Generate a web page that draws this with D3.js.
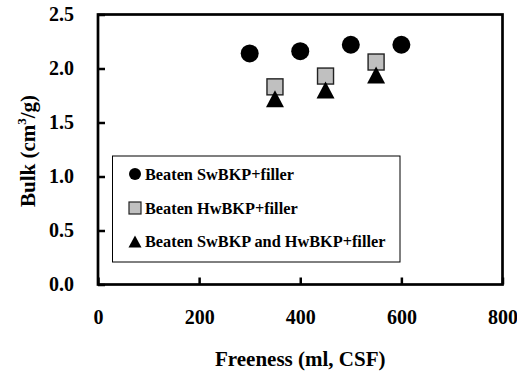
<!DOCTYPE html>
<html>
<head>
<meta charset="utf-8">
<script src="https://cdn.jsdelivr.net/npm/d3@7"></script>
<style>
  html, body { margin: 0; padding: 0; background: #fff; }
  svg text { font-family: "Liberation Serif", "Times New Roman", serif; font-weight: bold; fill: #000; }
</style>
</head>
<body>
<svg id="chart" width="517" height="375"></svg>
<script>
// Series data: freeness (ml, CSF) vs bulk (cm3/g)
const swFreeness = [300, 400, 500, 600];
const swBulk = [2.14, 2.16, 2.22, 2.22];
const hwFreeness = [350, 450, 550];
const hwBulk = [1.83, 1.93, 2.06];
const mixFreeness = [350, 450, 550];
const mixBulk = [1.72, 1.80, 1.94];

const xTicks = [0, 200, 400, 600, 800];
const yTicks = [0.0, 0.5, 1.0, 1.5, 2.0, 2.5];
const seriesNames = ["Beaten SwBKP+filler", "Beaten HwBKP+filler", "Beaten SwBKP and HwBKP+filler"];

const svg = d3.select("#chart");
const plot = { left: 98, right: 502.5, top: 14.5, bottom: 284.5 };

const x = d3.scaleLinear().domain([0, 800]).range([plot.left, plot.right]);
const y = d3.scaleLinear().domain([0, 2.5]).range([plot.bottom, plot.top]);

// Plot frame
svg.append("rect")
  .attr("x", plot.left).attr("y", plot.top)
  .attr("width", plot.right - plot.left).attr("height", plot.bottom - plot.top)
  .attr("fill", "none").attr("stroke", "#000").attr("stroke-width", 2.7);

// Axes with inward ticks
const xAxis = d3.axisBottom(x).tickValues(xTicks).tickSizeInner(-7).tickSizeOuter(0)
  .tickFormat(d3.format("d")).tickPadding(25);
const gx = svg.append("g").attr("transform", `translate(0,${plot.bottom})`).call(xAxis);
gx.select(".domain").remove();
gx.selectAll(".tick line").attr("stroke", "#000").attr("stroke-width", 2.5);
gx.selectAll(".tick text").attr("font-size", 20).attr("font-family", null);

const yAxis = d3.axisLeft(y).tickValues(yTicks).tickSizeInner(-7).tickSizeOuter(0)
  .tickFormat(d3.format(".1f")).tickPadding(24);
const gy = svg.append("g").attr("transform", `translate(${plot.left},0)`).call(yAxis);
gy.select(".domain").remove();
gy.selectAll(".tick line").attr("stroke", "#000").attr("stroke-width", 2.5);
gy.selectAll(".tick text").attr("font-size", 20).attr("font-family", null);

// Axis titles
svg.append("text")
  .attr("x", (plot.left + plot.right) / 2).attr("y", 366)
  .attr("text-anchor", "middle").attr("font-size", 21)
  .text("Freeness (ml, CSF)");

const yTitle = svg.append("text")
  .attr("transform", `translate(35,151) rotate(-90)`)
  .attr("text-anchor", "middle").attr("font-size", 21);
yTitle.append("tspan").text("Bulk (cm");
yTitle.append("tspan").attr("font-size", 13).attr("dy", -9).text("3");
yTitle.append("tspan").attr("dy", 9).text("/g)");

// Marker shapes
const tri = (w, h) => `M0,${-h / 2}L${w / 2},${h / 2}L${-w / 2},${h / 2}Z`;

// Circles
svg.append("g").selectAll("circle")
  .data(swFreeness.map((f, i) => [f, swBulk[i]]))
  .join("circle")
  .attr("cx", d => x(d[0])).attr("cy", d => y(d[1])).attr("r", 9)
  .attr("fill", "#000");

// Squares
svg.append("g").selectAll("rect")
  .data(hwFreeness.map((f, i) => [f, hwBulk[i]]))
  .join("rect")
  .attr("x", d => x(d[0]) - 8).attr("y", d => y(d[1]) - 8)
  .attr("width", 16).attr("height", 16)
  .attr("fill", "#c0c0c0").attr("stroke", "#222").attr("stroke-width", 1.4);

// Triangles
svg.append("g").selectAll("path")
  .data(mixFreeness.map((f, i) => [f, mixBulk[i]]))
  .join("path")
  .attr("transform", d => `translate(${x(d[0])},${y(d[1])})`)
  .attr("d", tri(18, 17))
  .attr("fill", "#000");

// Legend
const legend = svg.append("g");
legend.append("rect")
  .attr("x", 112.5).attr("y", 156).attr("width", 287.5).attr("height", 106)
  .attr("fill", "#fff").attr("stroke", "#000").attr("stroke-width", 1);
const rowY = [174, 208, 241.5];
const mx = 135;
legend.append("circle").attr("cx", mx).attr("cy", rowY[0]).attr("r", 6).attr("fill", "#000");
legend.append("rect").attr("x", mx - 6).attr("y", rowY[1] - 6).attr("width", 12).attr("height", 12)
  .attr("fill", "#c0c0c0").attr("stroke", "#222").attr("stroke-width", 1.2);
legend.append("path").attr("transform", `translate(${mx},${rowY[2]})`).attr("d", tri(13, 12)).attr("fill", "#000");
legend.selectAll("text.lbl")
  .data(seriesNames)
  .join("text")
  .attr("class", "lbl")
  .attr("x", 145).attr("y", (d, i) => rowY[i] + 5.5)
  .attr("font-size", 16.3)
  .text(d => d);
</script>
</body>
</html>
